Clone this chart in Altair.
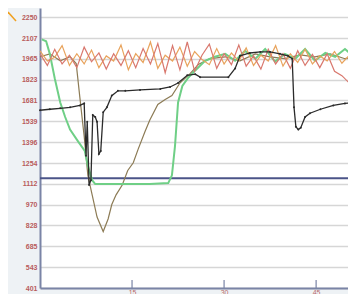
import altair as alt
import pandas as pd

# y tick values (labels on the left axis)
y_ticks = [401, 543, 685, 828, 970, 1112, 1254, 1396, 1539, 1681, 1823, 1965, 2107, 2250]
x_ticks = [15, 30, 45]

threshold_x = [0, 51.5]
threshold_v = [1150, 1150]

black_x = [0, 1.6, 3.3, 4.9, 6.5, 7.2, 7.5, 7.7, 8.0, 8.3, 8.6, 9.0, 9.3, 9.6, 9.9, 10.3, 10.9,
           11.7, 12.7, 13.9, 16.3, 19.6, 21.2, 22.5, 24.0, 25.3, 26.1, 30.7, 31.8, 32.6, 34.2,
           35.9, 37.5, 39.1, 40.4, 41.1, 41.4, 41.7, 42.1, 42.5, 43.2, 44.0, 45.7, 47.8, 49.7, 51.5]
black_v = [1614, 1621, 1627, 1634, 1647, 1661, 1303, 1535, 1104, 1137, 1581, 1568, 1535, 1316,
           1336, 1601, 1634, 1714, 1747, 1747, 1753, 1760, 1773, 1800, 1853, 1860, 1840, 1840,
           1899, 1986, 2005, 2012, 2012, 1999, 1986, 1966, 1634, 1502, 1482, 1495, 1568, 1594,
           1621, 1647, 1661, 1667]

green_x = [0.3, 1.0, 1.6, 2.4, 3.3, 4.1, 4.9, 6.2, 7.3, 7.8, 8.5, 9.0, 13.0, 17.9, 20.9, 21.5,
           22.0, 22.5, 23.2, 24.1, 25.3, 26.9, 28.5, 30.2, 31.8, 33.4, 35.1, 36.7, 38.3, 39.9,
           41.6, 43.2, 44.8, 46.5, 48.1, 49.7, 51.5]
green_v = [2098, 2085, 1999, 1833, 1667, 1568, 1482, 1402, 1336, 1236, 1137, 1110, 1110, 1110,
           1117, 1170, 1369, 1667, 1780, 1833, 1886, 1952, 1979, 1999, 1952, 2019, 1966, 2032,
           1946, 1999, 1966, 2032, 1952, 2005, 1979, 2032, 1966]

brown_x = [0, 1.6, 3.3, 4.9, 5.9, 6.5, 7.2, 7.8, 8.5, 9.3, 10.3, 11.1, 11.7, 12.4, 13.4, 14.3,
           15.2, 16.0, 17.1, 17.9, 19.2, 20.4, 21.5, 22.8, 24.5, 25.8, 27.7, 30.2, 32.6, 35.1,
           37.5, 39.9, 42.4, 44.8, 47.3, 49.7, 51.5]
brown_v = [1979, 1999, 1952, 1979, 1933, 1700, 1435, 1170, 1037, 885, 786, 872, 971, 1037, 1104,
           1203, 1256, 1349, 1468, 1548, 1654, 1687, 1714, 1800, 1866, 1926, 1966, 1979, 1952,
           1999, 1979, 1966, 1992, 1979, 1999, 1966, 1979]

noisy_x = [0, 1.2, 2.4, 3.6, 4.8, 6.0, 7.2, 8.4, 9.6, 10.8, 12.0, 13.2, 14.4, 15.6, 16.8, 18.0,
           19.2, 20.4, 21.6, 22.8, 24.0, 25.2, 26.4, 27.6, 28.8, 30.0, 31.2, 32.4, 33.6, 34.8,
           36.0, 37.2, 38.4, 39.6, 40.8, 42.0, 43.2, 44.4, 45.6, 46.8, 48.0, 49.2, 50.4, 51.5]
red_v = [2000, 1920, 2030, 1930, 1990, 1905, 2045, 1945, 2005, 1895, 2000, 1920, 2020, 1905,
         2035, 1930, 2070, 1870, 2055, 1890, 2080, 1880, 1990, 2065, 1900, 2000, 1925, 2060,
         1915, 1985, 1895, 2030, 1930, 2000, 1900, 2020, 1920, 1995, 1905, 2000, 1880, 1850,
         1800, 1760]
orange_v = [2020, 1950, 1975, 2055, 1920, 2000, 1930, 2025, 1905, 1985, 1950, 2060, 1890, 2000,
            1940, 2080, 1900, 1990, 1950, 2045, 1915, 2015, 1960, 1925, 2035, 1930, 2005, 1950,
            2040, 1920, 1990, 1950, 2055, 1915, 2000, 1940, 2030, 1930, 1985, 1950, 2015, 1935,
            1990, 1950]

X = alt.Scale(domain=[0, 51.5], nice=False, zero=False)
Y = alt.Scale(domain=[401, 2312], nice=False, zero=False)

XAXIS = alt.Axis(values=x_ticks, ticks=False, grid=False,
                 domainColor="#7a84a6", domainWidth=2, labelColor="#b86a6a",
                 labelFontSize=7, labelPadding=0, title=None)
YAXIS = alt.Axis(values=y_ticks, format="d", ticks=False,
                 grid=True, gridColor="#d6d6d6", gridWidth=1.5,
                 domainColor="#7a84a6", domainWidth=2, labelColor="#b85c5c",
                 labelFontSize=7, labelFontWeight="bold", labelPadding=3, title=None)


def line(xs, vs, color, width, points=False):
    df = pd.DataFrame({"x": xs, "v": vs})
    m = alt.Chart(df).mark_line(color=color, strokeWidth=width,
                                point=alt.OverlayMarkDef(size=4, color=color) if points else False)
    return m.encode(x=alt.X("x:Q", scale=X, axis=XAXIS, title=None),
                    y=alt.Y("v:Q", scale=Y, axis=YAXIS, title=None))


base = line(threshold_x, threshold_v, "#4b5488", 2)
brown = line(brown_x, brown_v, "#8c7b55", 1.2)
green = line(green_x, green_v, "#6fcf86", 2)
orange = line(noisy_x, orange_v, "#e8a35c", 1.2)
red = line(noisy_x, red_v, "#d9786e", 1.2)
black = line(black_x, black_v, "#2b2b2b", 1.3, points=True)

ticks = alt.Chart(pd.DataFrame({"x": x_ticks})).mark_rule(color="#7a84a6", strokeWidth=1.2).encode(
    x=alt.X("x:Q", scale=X, axis=XAXIS, title=None), y=alt.value(272), y2=alt.value(280))

deco = alt.Chart(alt.Data(values=[{}])).mark_rule(color="#f0a020", strokeWidth=1.5, clip=False).encode(
    x=alt.value(-32), x2=alt.value(-24), y=alt.value(4), y2=alt.value(13))

chart = alt.layer(base, brown, green, orange, red, black, ticks, deco).properties(
    width=316, height=280,
    autosize=alt.AutoSizeParams(type="none"),
    padding={"left": 32, "top": 0, "right": -8, "bottom": 6},
    background="#eef2f5",
).configure_view(fill="white", stroke=None)

chart.save("out.html", embed_options={"renderer": "svg", "actions": False})
